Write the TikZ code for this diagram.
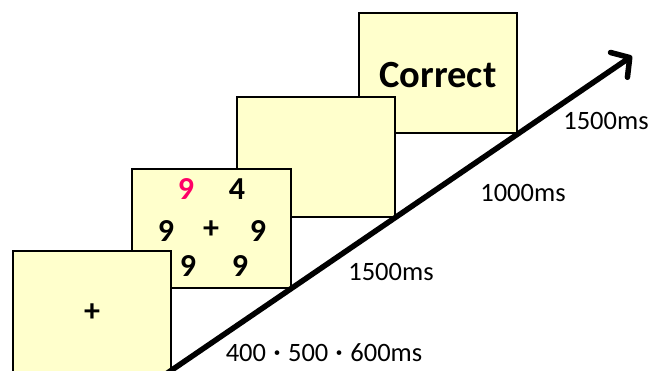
\documentclass[tikz,border=0pt]{standalone}
\usepackage{fontspec}
\setmainfont{Carlito}
\newfontfamily\cjkfont{Noto Sans CJK JP}
\usetikzlibrary{arrows.meta}
\definecolor{boxfill}{HTML}{FFFFCC}
\definecolor{pinkred}{RGB}{255,0,102}
\tikzset{
  screen/.style={draw=black,line width=2.2pt,fill=boxfill},
  lbl/.style={font=\fontsize{26.5}{30}\selectfont,inner sep=0pt},
  num/.style={font=\fontsize{32}{34}\selectfont\bfseries,inner sep=0pt},
  timeline/.style={line width=5.5pt,-{Straight Barb[length=13pt,width=30pt,round]}}
}
\newcommand\middot{{\cjkfont\fontsize{22}{22}\selectfont ・}}
\begin{document}
\begin{tikzpicture}[x=1pt,y=-1pt]
\useasboundingbox (0,0) rectangle (670,370);
% screens, back to front
\draw[screen] (359,13) rectangle (517,133);
\node[font=\fontsize{38.5}{40}\selectfont\bfseries,inner sep=0pt] (correct) at (438,75) {Correct};
\draw[screen] (237,97) rectangle (395,217);
\draw[screen] (132,169) rectangle (291,288);
\node[num,text=pinkred] (n1) at (186,189) {9};
\node[num] (n2) at (237,189) {4};
\node[num] (n3) at (166,231) {9};
\node[num] (n4) at (211,230) {+};
\node[num] (n5) at (258,231) {9};
\node[num] (n6) at (188,266) {9};
\node[num] (n7) at (240,266) {9};
\draw[screen] (13,251) rectangle (171,380);
\node[num] (fix) at (92,313) {+};
% time axis
\coordinate (t0) at (166,374);
\coordinate (t1) at (632,56);
\draw[timeline] (t0) -- (t1);
% durations
\node[lbl] (d4) at (606,121) {1500ms};
\node[lbl] (d3) at (523,193) {1000ms};
\node[lbl] (d2) at (391,272) {1500ms};
\node[lbl] (d1) at (324,353) {400\middot 500\middot 600ms};
\end{tikzpicture}
\end{document}
